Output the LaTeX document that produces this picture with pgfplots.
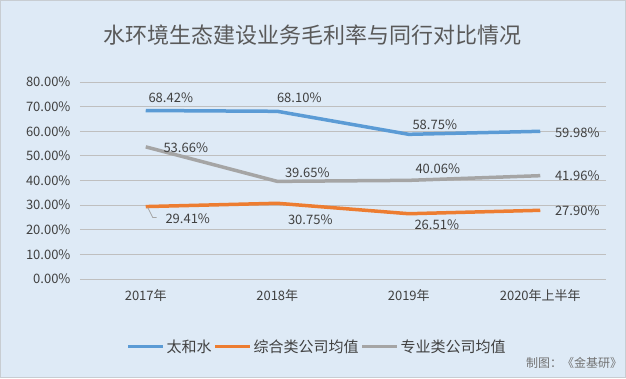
\documentclass[border=0pt]{standalone}
\usepackage{fontspec}
\setmainfont{Noto Sans CJK SC}
\usepackage{pgfplots}
\pgfplotsset{compat=1.18}
\definecolor{bg}{HTML}{DEEAF6}
\definecolor{frame}{HTML}{C8CDD2}
\definecolor{grid}{HTML}{D0D4D8}
\definecolor{cblue}{HTML}{5B9BD5}
\definecolor{corange}{HTML}{ED7D31}
\definecolor{cgray}{HTML}{A5A5A5}
\definecolor{txt}{HTML}{404040}
\definecolor{ttl}{HTML}{595959}
\begin{document}
\begin{tikzpicture}[x=1pt,y=1pt,
  lbl/.style={font=\fontsize{13}{15}\selectfont, text=txt, inner sep=0pt}]
\fill[bg] (-80,-99) rectangle (546,279);
\draw[frame, line width=1pt] (-79.5,-98.5) rectangle (545.5,278.5);
\path[use as bounding box] (-80,-99) rectangle (546,279);
\node[font=\fontsize{22}{25}\selectfont, text=ttl] at (232,244) {水环境生态建设业务毛利率与同行对比情况};
\node[font=\fontsize{12}{14}\selectfont, text=ttl!85] at (494,-84) {制图：《金基研》};
\begin{axis}[
  at={(0,0)}, anchor=south west,
  scale only axis, width=526pt, height=197pt,
  xmin=-0.5, xmax=3.5, ymin=0, ymax=80,
  xtick={0,1,2,3},
  xticklabels={2017年,2018年,2019年,2020年上半年},
  ytick={0,10,...,80},
  yticklabel={\pgfmathprintnumber[fixed,fixed zerofill,precision=2]{\tick}\%},
  /pgf/number format/assume math mode=true,
  ymajorgrids, xmajorgrids=false, grid style={grid, line width=0.8pt},
  axis line style={draw=none},
  major tick length=0pt,
  xtick style={draw=none}, ytick style={draw=none},
  ticklabel style={font=\fontsize{13}{15}\selectfont, text=txt},
  yticklabel style={xshift=-6pt},
  xticklabel style={yshift=-7pt},
  legend style={at={(0.451,-0.345)}, anchor=center, draw=none, fill=none,
    legend columns=3, font=\fontsize{15}{17}\selectfont, text=txt,
    inner sep=0pt, outer sep=0pt,
    /tikz/every even column/.append style={column sep=0pt}},
  legend image code/.code={\draw[#1, line width=3pt] (0pt,0pt) -- (35pt,0pt);},
  every axis plot/.append style={line width=3.5pt, line join=round},
]
\addplot[cblue] coordinates {(0,68.42) (1,68.10) (2,58.75) (3,59.98)};
\addlegendentry{太和水}
\addplot[corange] coordinates {(0,29.41) (1,30.75) (2,26.51) (3,27.90)};
\addlegendentry{综合类公司均值}
\addplot[cgray] coordinates {(0,53.66) (1,39.65) (2,40.06) (3,41.96)};
\addlegendentry{专业类公司均值}
% data labels
\node[lbl, xshift=25pt, yshift=13pt] at (axis cs:0,68.42) {68.42\%};
\node[lbl, xshift=22pt, yshift=14pt] at (axis cs:1,68.10) {68.10\%};
\node[lbl, xshift=26pt, yshift=10pt] at (axis cs:2,58.75) {58.75\%};
\node[lbl, xshift=37pt, yshift=-1pt] at (axis cs:3,59.98) {59.98\%};
\node[lbl, xshift=40pt, yshift=-1pt] at (axis cs:0,53.66) {53.66\%};
\node[lbl, xshift=30pt, yshift=9pt] at (axis cs:1,39.65) {39.65\%};
\node[lbl, xshift=29pt, yshift=12pt] at (axis cs:2,40.06) {40.06\%};
\node[lbl, xshift=37pt, yshift=0pt] at (axis cs:3,41.96) {41.96\%};
\node[lbl, xshift=42pt, yshift=-12pt] at (axis cs:0,29.41) {29.41\%};
\node[lbl, xshift=33pt, yshift=-16pt] at (axis cs:1,30.75) {30.75\%};
\node[lbl, xshift=28pt, yshift=-11pt] at (axis cs:2,26.51) {26.51\%};
\node[lbl, xshift=37pt, yshift=0pt] at (axis cs:3,27.90) {27.90\%};
\draw[cgray, line width=0.8pt] (axis cs:0,29.41) ++(2pt,-1pt) -- ++(5pt,-10pt) -- ++(4pt,0pt);
\end{axis}
\end{tikzpicture}
\end{document}
